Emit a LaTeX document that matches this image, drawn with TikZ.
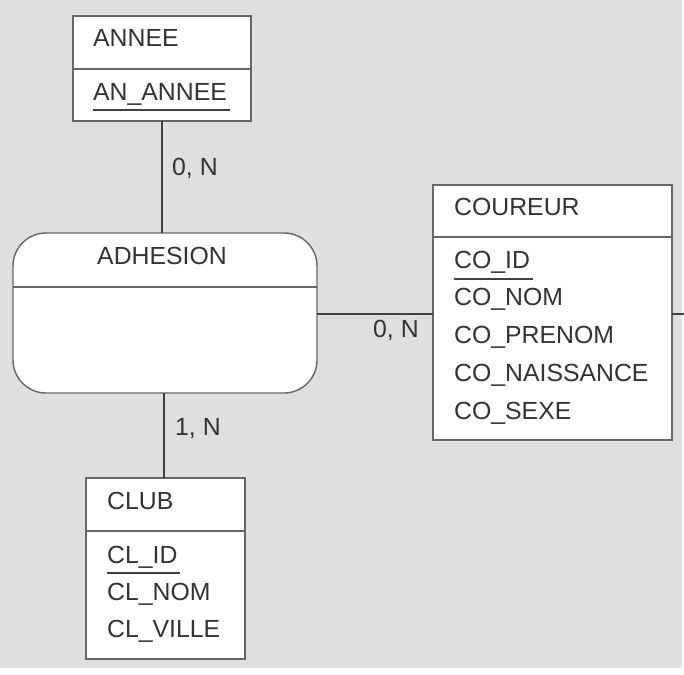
\documentclass[tikz,border=0pt]{standalone}
\usepackage{fontspec}
\setmainfont{Liberation Sans}
\usetikzlibrary{positioning}
\colorlet{fond}{gray!25}
\colorlet{trait}{black!60}
\colorlet{texte}{black!80}
\tikzset{
  ent/.style   = { draw=trait, line width=1.4pt, fill=white, rectangle, anchor=north west, outer sep=0pt, inner sep=0pt },
  asso/.style  = { draw=trait, line width=1.4pt, fill=white, rectangle, rounded corners=33pt, anchor=north west, outer sep=0pt, inner sep=0pt },
  attr/.style  = { anchor=base west, inner sep=0pt, text=texte, font=\fontsize{24.8}{28}\selectfont },
  card/.style  = { attr },
  lien/.style  = { draw=black!75, line width=1.8pt },
  cle/.style   = { draw=black!75, line width=1.4pt }
}
\begin{document}
\begin{tikzpicture}[x=1pt,y=-1pt]
    % fond
    \fill[white] (0,0) rectangle (684,674);
    \fill[fond] (0,0) rectangle (682,668);
    \useasboundingbox (0,0) rectangle (684,674);
    % ANNEE
    \node[ent, minimum width=178pt, minimum height=53pt] (anneeH) at (73,16) {};
    \node[ent, minimum width=178pt, minimum height=52pt, below=0pt of anneeH.south west, anchor=north west] (anneeB) {};
    \node[attr] (anneeT) at (93,47) {ANNEE};
    \node[attr] (anAnnee) at (93,100) {AN\_ANNEE};
    \draw[cle] ([yshift=-10pt]anAnnee.base west) -- ([yshift=-10pt,xshift=3pt]anAnnee.base east);
    % ADHESION
    \node[asso, minimum width=304pt, minimum height=160pt] (adhesion) at (13,233) {};
    \draw[trait, line width=1.4pt] ([yshift=-54pt]adhesion.north west) -- ([yshift=-54pt]adhesion.north east);
    \node[attr, anchor=base] (adhesionT) at (162,264) {ADHESION};
    % COUREUR
    \node[ent, minimum width=239pt, minimum height=52pt] (coureurH) at (433,185) {};
    \node[ent, minimum width=239pt, minimum height=203pt, below=0pt of coureurH.south west, anchor=north west] (coureurB) {};
    \node[attr] (coureurT) at (454,215) {COUREUR};
    \node[attr] (coId) at (454,268) {CO\_ID};
    \node[attr, below=37.8pt of coId.base west, anchor=base west] (coNom) {CO\_NOM};
    \node[attr, below=37.8pt of coNom.base west, anchor=base west] (coPrenom) {CO\_PRENOM};
    \node[attr, below=37.8pt of coPrenom.base west, anchor=base west] (coNaissance) {CO\_NAISSANCE};
    \node[attr, below=37.8pt of coNaissance.base west, anchor=base west] (coSexe) {CO\_SEXE};
    \draw[cle] ([yshift=-11pt]coId.base west) -- ([yshift=-11pt,xshift=3pt]coId.base east);
    % CLUB
    \node[ent, minimum width=159pt, minimum height=53pt] (clubH) at (86,478) {};
    \node[ent, minimum width=159pt, minimum height=128pt, below=0pt of clubH.south west, anchor=north west] (clubB) {};
    \node[attr] (clubT) at (107,509) {CLUB};
    \node[attr] (clId) at (107,563) {CL\_ID};
    \node[attr, below=37pt of clId.base west, anchor=base west] (clNom) {CL\_NOM};
    \node[attr, below=37pt of clNom.base west, anchor=base west] (clVille) {CL\_VILLE};
    \draw[cle] ([yshift=-10pt]clId.base west) -- ([yshift=-10pt,xshift=2pt]clId.base east);
    % liens
    \coordinate (bord) at (684,314);
    \path[lien] (anneeB.south -| 162,0) -- (adhesion.north -| 162,0);
    \path[lien] (adhesion.south -| 164,0) -- (clubH.north -| 164,0);
    \path[lien] (adhesion.east |- 0,314) -- (coureurB.west |- 0,314);
    \path[lien] (coureurB.east |- 0,314) -- (bord);
    % cardinalites
    \node[card] (cardAnnee) at (172,175) {0, N};
    \node[card] (cardCoureur) at (373,337) {0, N};
    \node[card] (cardClub) at (175,435) {1, N};
\end{tikzpicture}
\end{document}
